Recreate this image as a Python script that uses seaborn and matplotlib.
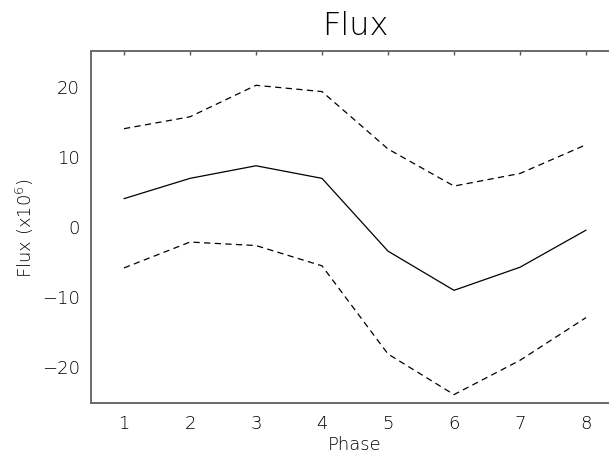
import matplotlib
matplotlib.use("Agg")
import matplotlib.pyplot as plt
import seaborn as sns
import pandas as pd

sns.set_style("white")
plt.rcParams['font.family'] = ['DejaVu Sans']
plt.rcParams['font.weight'] = 'light'
plt.rcParams['axes.labelweight'] = 'light'
plt.rcParams['text.color'] = 'black'
plt.rcParams['axes.labelcolor'] = 'black'
plt.rcParams['mathtext.default'] = 'regular'

# data
phase = [1, 2, 3, 4, 5, 6, 7, 8]
flux_mid = [3.9, 6.8, 8.6, 6.8, -3.6, -9.2, -5.9, -0.6]
flux_upper = [13.9, 15.6, 20.1, 19.2, 11.0, 5.7, 7.5, 11.6]
flux_lower = [-6.0, -2.3, -2.8, -5.7, -18.3, -24.1, -19.2, -13.1]

df = pd.DataFrame({"Phase": phase, "mid": flux_mid,
                   "upper": flux_upper, "lower": flux_lower})

fig = plt.figure(figsize=(6.09, 4.56), dpi=100)
# axes run past the right edge of the canvas, as in the reference
ax = fig.add_axes([91 / 609, 1 - 404 / 456, 528 / 609, 352 / 456])

sns.lineplot(data=df, x="Phase", y="upper", ax=ax, color="black",
             linewidth=0.9, linestyle=(0, (5, 3.5)))
sns.lineplot(data=df, x="Phase", y="mid", ax=ax, color="black", linewidth=0.9)
sns.lineplot(data=df, x="Phase", y="lower", ax=ax, color="black",
             linewidth=0.9, linestyle=(0, (5, 3.5)))

ax.set_xlim(0.5, 8.5)
ax.set_ylim(-25.3, 25)
ax.set_xticks(phase)
ax.set_yticks([-20, -10, 0, 10, 20])
ax.set_yticklabels(["\u221220", "\u221210", "0", "10", "20"])

for side in ["left", "top", "bottom"]:
    ax.spines[side].set_color("#6a6a6a")
    ax.spines[side].set_linewidth(1.4)
ax.spines["right"].set_visible(False)
ax.tick_params(direction="in", length=3, width=1, color="#555555",
               top=True, labelsize=13, pad=8, labelcolor="black")

ax.set_title("Flux", fontsize=23, fontweight="light", color="black", pad=12)
ax.set_xlabel("Phase", fontsize=13, fontweight="light", labelpad=2)
ax.set_ylabel("Flux (x10$^{6}$)", fontsize=13, fontweight="light", labelpad=4)

fig.savefig("out.png", dpi=100)
